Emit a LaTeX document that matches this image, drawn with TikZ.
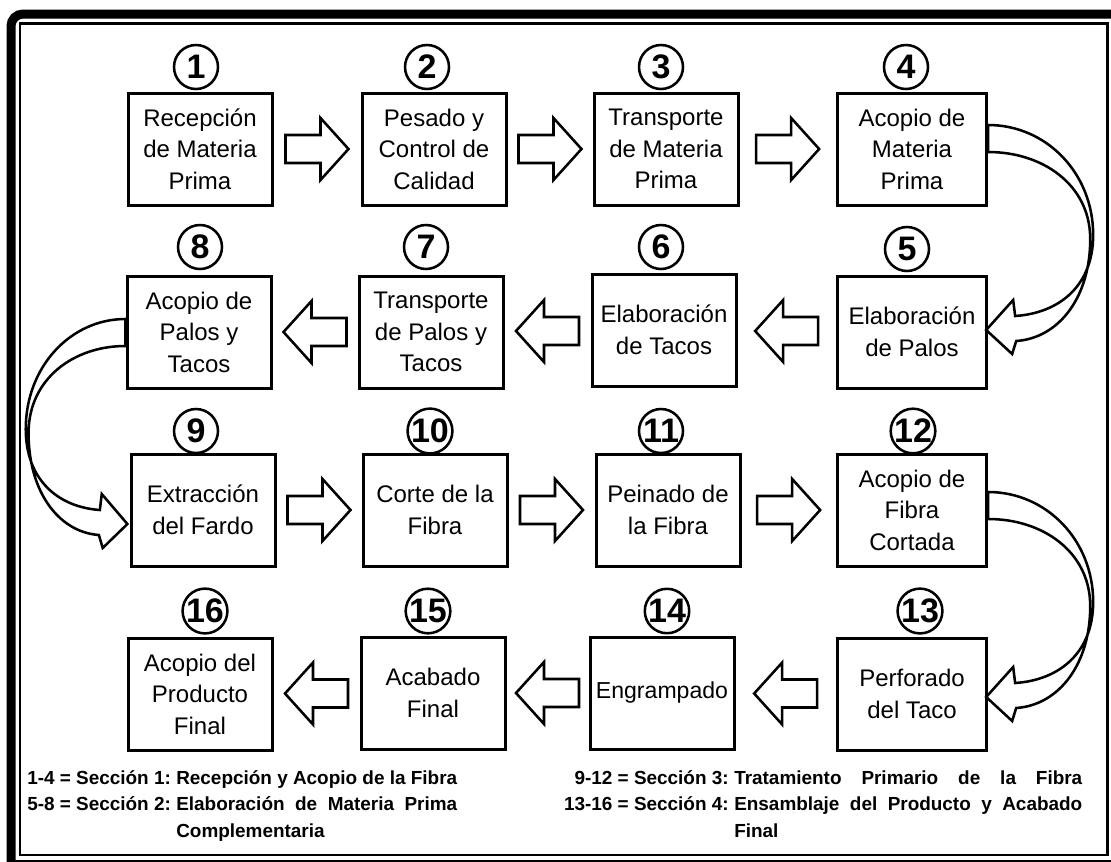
\documentclass[tikz,border=0pt]{standalone}
\usepackage{fontspec}
\setmainfont{Liberation Sans}
\usetikzlibrary{calc}
\tikzset{
  box/.style={draw, line width=2.25pt, minimum width=108pt, minimum height=84pt,
    inner sep=0pt, align=center, font=\fontsize{18}{23.6}\selectfont},
  widebox/.style={box, minimum width=112pt},
  num/.style={draw, circle, line width=1.9pt, minimum size=33pt, inner sep=0pt,
    font=\fontsize{25.5}{25.5}\selectfont\bfseries},
  arrowline/.style={draw, line width=1.9pt, line join=miter, fill=white},
  legend/.style={inner sep=0pt, font=\fontsize{14.2}{20}\selectfont\bfseries},
  % straight block arrow, pointing right, centred on its position
  blockarrow/.pic={
    \path[arrowline] (-31.5,-14) -- (3.5,-14) -- (3.5,-31) -- (31.5,0)
      -- (3.5,31) -- (3.5,14) -- (-31.5,14) -- cycle;
  },
  % U-turn block arrow: tail at the origin, bending out and back to the row below
  bendarrow/.pic={
    \path[arrowline] (0,0) .. controls (58,0) and (105,48) .. (105,110)
      .. controls (105,160) and (72,188) .. (27,191)
      -- (25,175) -- (-2,205) -- (24,229) -- (28,216)
      .. controls (72,213) and (103,170) .. (102,112)
      .. controls (101,60) and (55,27) .. (0,27) -- cycle;
  }
}
\begin{document}
\begin{tikzpicture}[x=0.75pt,y=-0.75pt]
\useasboundingbox (0,0) rectangle (1111,861);

% page frame: heavy outer rule and thin inner rule
\begin{scope}
  \clip (0,0) rectangle (1111,861);
  \draw[line width=6.75pt, rounded corners=9pt] (11,900) -- (11,14) -- (1200,14);
  \draw[line width=6.75pt] (11,864.5) -- (1200,864.5);
\end{scope}
\draw[line width=2.1pt] (20,23.5) rectangle (1107.5,855);

% row 1
\node[box] (b1) at (200,149) {Recepción\\de Materia\\Prima};
\node[box] (b2) at (434,149) {Pesado y\\Control de\\Calidad};
\node[box] (b3) at (666,149) {Transporte\\de Materia\\Prima};
\node[widebox] (b4) at (912,149) {Acopio de\\Materia\\Prima};
% row 2
\node[box] (b8) at (199,332) {Acopio de\\Palos y\\Tacos};
\node[box] (b7) at (431,332) {Transporte\\de Palos y\\Tacos};
\node[box] (b6) at (664,330) {Elaboración\\de Tacos};
\node[widebox] (b5) at (912,332) {Elaboración\\de Palos};
% row 3
\node[box] (b9) at (203,510) {Extracción\\del Fardo};
\node[box] (b10) at (435,510) {Corte de la\\Fibra};
\node[box] (b11) at (668,510) {Peinado de\\la Fibra};
\node[widebox] (b12) at (912,510) {Acopio de\\Fibra\\Cortada};
% row 4
\node[box] (b16) at (200,694) {Acopio del\\Producto\\Final};
\node[box] (b15) at (433,693) {Acabado\\Final};
\node[box, font=\fontsize{17.3}{23.6}\selectfont] (b14) at (662,693) {Engrampado};
\node[widebox] (b13) at (912,694) {Perforado\\del Taco};

% step numbers
\node[num] (c1) at (196,67) {1};
\node[num] (c2) at (427,67) {2};
\node[num] (c3) at (661,67) {3};
\node[num] (c4) at (906,67) {4};
\node[num] (c8) at (200,247) {8};
\node[num] (c7) at (426,247) {7};
\node[num] (c6) at (661,247) {6};
\node[num] (c5) at (907,249) {5};
\node[num] (c9) at (196,431) {9};
\node[num] (c10) at (430,431) {10};
\node[num] (c11) at (661,431) {11};
\node[num] (c12) at (913,431) {12};
\node[num] (c16) at (205,611) {16};
\node[num] (c15) at (428,611) {15};
\node[num] (c14) at (667,611) {14};
\node[num] (c13) at (920,611) {13};

% straight arrows between neighbouring steps
\pic at ($(b1.east)!0.5!(b2.west)$) {blockarrow};
\pic at ($(b2.east)!0.5!(b3.west)$) {blockarrow};
\pic at ($(b3.east)!0.5!(b4.west)$) {blockarrow};
\pic[xscale=-1] at ($(b5.west)!0.5!(b6.east)$) {blockarrow};
\pic[xscale=-1] at ($(b6.west)!0.5!(b7.east)$) {blockarrow};
\pic[xscale=-1] at ($(b7.west)!0.5!(b8.east)$) {blockarrow};
\pic at ($(b9.east)!0.5!(b10.west)$) {blockarrow};
\pic at ($(b10.east)!0.5!(b11.west)$) {blockarrow};
\pic at ($(b11.east)!0.5!(b12.west)$) {blockarrow};
\pic[xscale=-1] at ($(b13.west)!0.5!(b14.east)$) {blockarrow};
\pic[xscale=-1] at ($(b14.west)!0.5!(b15.east)$) {blockarrow};
\pic[xscale=-1] at ($(b15.west)!0.5!(b16.east)$) {blockarrow};

% U-turn arrows between rows
\pic at ($(b4.east)+(0,-24)$) {bendarrow};
\pic[xscale=-0.95] at ($(b8.west)+(0,-13)$) {bendarrow};
\pic at ($(b12.east)+(0,-18)$) {bendarrow};

% section legend
\node[legend, anchor=base west] (l1a) at (27,784) {1-4 = Sección 1:};
\node[legend, anchor=base west] (l1b) at (176,784) {Recepción y Acopio de la Fibra};
\node[legend, anchor=base west] (l2a) at (27,810) {5-8 = Sección 2:};
\node[legend, anchor=base west] (l2b) at (176,810) {\makebox[210.7pt][s]{Elaboración de Materia Prima}};
\node[legend, anchor=base west] (l3b) at (176,837) {Complementaria};

\node[legend, anchor=base east] (r1a) at (729,784) {9-12 = Sección 3:};
\node[legend, anchor=base west] (r1b) at (734,784) {\makebox[261pt][s]{Tratamiento Primario de la Fibra}};
\node[legend, anchor=base east] (r2a) at (729,810) {13-16 = Sección 4:};
\node[legend, anchor=base west] (r2b) at (734,810) {\makebox[261pt][s]{Ensamblaje del Producto y Acabado}};
\node[legend, anchor=base west] (r3b) at (734,837) {Final};
\end{tikzpicture}
\end{document}
